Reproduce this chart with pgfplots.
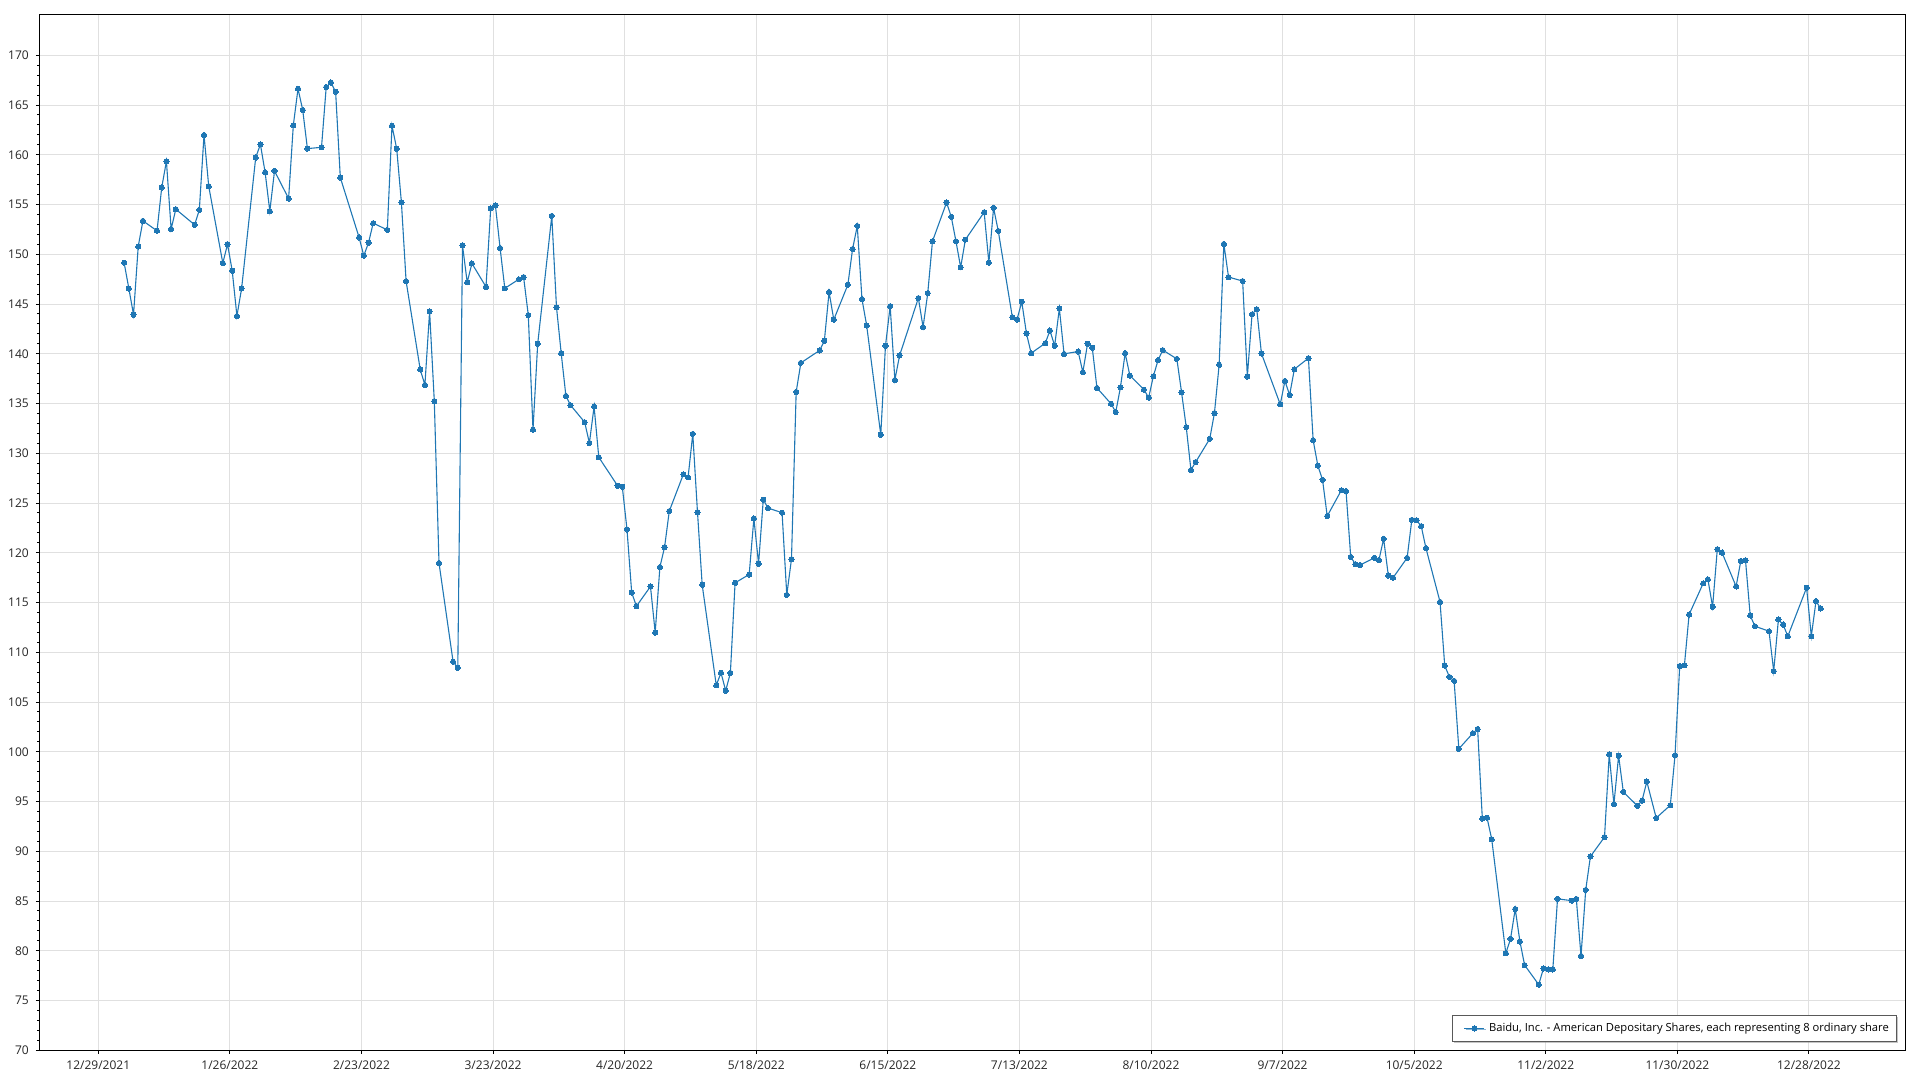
\documentclass[border=0pt]{standalone}
\usepackage{fontspec}
\setmainfont{Open Sans}
\usepackage{pgfplots}
\pgfplotsset{compat=1.18}
\usepackage{pgfplotstable}
\usetikzlibrary{shadows}
\definecolor{series}{RGB}{31,119,180}
\definecolor{gridc}{RGB}{224,224,224}

\pgfplotstableread{
d v
5 149.15
6 146.57
7 143.93
8 150.79
9 153.36
12 152.36
13 156.71
14 159.35
15 152.53
16 154.53
20 152.96
21 154.46
22 161.99
23 156.84
26 149.11
27 151.02
28 148.34
29 143.80
30 146.57
33 159.72
34 161.05
35 158.24
36 154.33
37 158.38
40 155.60
41 162.96
42 166.64
43 164.50
44 160.62
47 160.75
48 166.81
49 167.27
50 166.34
51 157.71
55 151.69
56 149.86
57 151.16
58 153.13
61 152.45
62 162.92
63 160.60
64 155.22
65 147.30
68 138.43
69 136.87
70 144.26
71 135.24
72 118.98
75 109.05
76 108.44
77 150.90
78 147.18
79 149.08
82 146.73
83 154.61
84 154.92
85 150.63
86 146.58
89 147.49
90 147.71
91 143.89
92 132.36
93 141.00
96 153.86
97 144.68
98 140.06
99 135.77
100 134.83
103 133.12
104 131.03
105 134.70
106 129.60
110 126.74
111 126.64
112 122.35
113 116.01
114 114.63
117 116.61
118 111.98
119 118.56
120 120.57
121 124.19
124 127.89
125 127.58
126 131.95
127 124.09
128 116.78
131 106.68
132 107.95
133 106.14
134 107.92
135 116.98
138 117.82
139 123.46
140 118.89
141 125.34
142 124.50
145 124.03
146 115.77
147 119.36
148 136.17
149 139.09
153 140.34
154 141.31
155 146.21
156 143.43
159 146.94
160 150.53
161 152.85
162 145.50
163 142.84
166 131.86
167 140.80
168 144.79
169 137.37
170 139.82
174 145.60
175 142.68
176 146.10
177 151.31
180 155.20
181 153.76
182 151.31
183 148.69
184 151.47
188 154.23
189 149.16
190 154.66
191 152.35
194 143.68
195 143.45
196 145.23
197 142.04
198 140.06
201 141.06
202 142.34
203 140.80
204 144.56
205 139.99
208 140.23
209 138.15
210 141.01
211 140.61
212 136.57
215 134.98
216 134.14
217 136.63
218 140.07
219 137.81
222 136.40
223 135.59
224 137.74
225 139.36
226 140.37
229 139.49
230 136.13
231 132.63
232 128.32
233 129.12
236 131.45
237 134.04
238 138.89
239 151.04
240 147.71
243 147.31
244 137.71
245 143.97
246 144.48
247 140.03
251 134.92
252 137.27
253 135.86
254 138.45
257 139.56
258 131.32
259 128.77
260 127.33
261 123.69
264 126.28
265 126.20
266 119.58
267 118.85
268 118.77
271 119.49
272 119.28
273 121.40
274 117.71
275 117.49
278 119.49
279 123.31
280 123.27
281 122.68
282 120.47
285 115.07
286 108.66
287 107.52
288 107.13
289 100.30
292 101.87
293 102.29
294 93.29
295 93.38
296 91.21
299 79.75
300 81.19
301 84.20
302 80.93
303 78.56
306 76.60
307 78.22
308 78.13
309 78.13
310 85.22
313 85.04
314 85.21
315 79.49
316 86.12
317 89.48
320 91.43
321 99.74
322 94.73
323 99.60
324 95.97
327 94.56
328 95.10
329 97.01
331 93.35
334 94.63
335 99.64
336 108.62
337 108.69
338 113.80
341 116.93
342 117.33
343 114.57
344 120.36
345 120.02
348 116.62
349 119.18
350 119.25
351 113.70
352 112.62
355 112.12
356 108.11
357 113.29
358 112.79
359 111.61
363 116.49
364 111.61
365 115.14
366 114.40
}\datatable

\begin{document}
\begin{tikzpicture}
\begin{axis}[
  at={(0,0)}, anchor=south west,
  scale only axis, width=933.1pt, height=517.65pt,
  xmin=-12.55, xmax=384.55, ymin=70, ymax=174.05,
  xtick={0,28,...,364},
  xticklabels={12/29/2021,1/26/2022,2/23/2022,3/23/2022,4/20/2022,5/18/2022,6/15/2022,7/13/2022,8/10/2022,9/7/2022,10/5/2022,11/2/2022,11/30/2022,12/28/2022},
  ytick={70,75,...,170},
  minor y tick num=4,
  tick align=outside, xtick pos=bottom, ytick pos=left,
  major tick length=1.75pt, minor tick length=1pt,
  grid=major, major grid style={gridc, line width=0.5pt},
  axis line style={black, line width=0.5pt},
  tick style={black, line width=0.5pt},
  ticklabel style={font=\fontsize{6}{7}\selectfont, text=black!85},
  /pgf/number format/assume math mode=true,
  legend cell align=left,
  legend style={at={(1,0)}, anchor=south east, xshift=-4.1pt, yshift=4.3pt,
    font=\fontsize{5.6}{6.5}\selectfont, draw=black!65, line width=0.5pt, fill=white,
    inner xsep=2pt, inner ysep=1.5pt,
    drop shadow={shadow xshift=0.7pt, shadow yshift=-0.7pt, fill=black!45}},
  legend image code/.code={\path (-3.6pt,0pt); \draw[mark repeat=2,mark phase=2,#1] plot coordinates {(0pt,0pt) (5pt,0pt) (10pt,0pt)};},
]
\addplot[series, line width=0.55pt, mark=*, mark size=1.3pt, mark options={fill=series, draw=series, line width=0pt}]
  table[x expr=\thisrow{d}+0.5, y=v] {\datatable};
\addlegendentry{Baidu, Inc. - American Depositary Shares, each representing 8 ordinary share}
\end{axis}
\pgfresetboundingbox
\path[use as bounding box] (-19.65pt,-14.85pt) rectangle (940.35pt,525.15pt);
\end{tikzpicture}
\end{document}
